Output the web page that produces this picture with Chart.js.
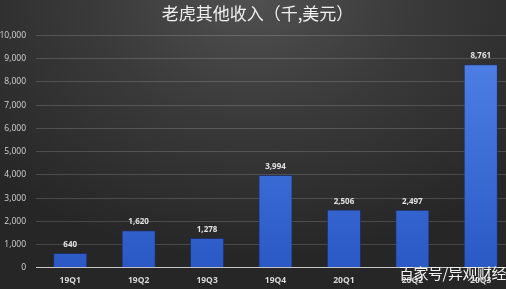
<!DOCTYPE html>
<html>
<head>
<meta charset="utf-8">
<script src="https://cdn.jsdelivr.net/npm/chart.js@4/dist/chart.umd.min.js"></script>
<style>
  html, body { margin: 0; padding: 0; }
  body {
    width: 506px; height: 289px; overflow: hidden; position: relative;
    background: radial-gradient(ellipse 70% 90% at 50% 0%, #505050 0%, #3a3a3a 45%, #262626 100%);
    font-family: "Noto Sans CJK SC", sans-serif;
  }
  /* plot runs past the right edge in the original, so the canvas is a bit larger than the page */
  #wrap { position: absolute; left: 0; top: 0; width: 515px; height: 294px; }
  #mark {
    position: absolute; left: 399px; top: 262px; color: #f2f2f2;
    font-size: 15px; letter-spacing: -0.5px; white-space: nowrap;
  }
</style>
</head>
<body>
<div id="wrap"><canvas id="chart"></canvas></div>
<div id="mark">百家号/异观财经</div>
<script>
const quarters = ["19Q1", "19Q2", "19Q3", "19Q4", "20Q1", "20Q2", "20Q3"];
const otherIncome = [640, 1620, 1278, 3994, 2506, 2497, 8761];
const yTicks = [0, 1000, 2000, 3000, 4000, 5000, 6000, 7000, 8000, 9000, 10000];

const fmt = (v) => v.toLocaleString("en-US");

// value labels above the bars
const barLabels = {
  id: "barLabels",
  afterDatasetsDraw(chart) {
    const ctx = chart.ctx;
    const meta = chart.getDatasetMeta(0);
    ctx.save();
    ctx.font = "bold 8px 'Open Sans', sans-serif";
    ctx.fillStyle = "#e2e2e2";
    ctx.textAlign = "center";
    ctx.textBaseline = "bottom";
    meta.data.forEach((bar, i) => {
      ctx.fillText(fmt(otherIncome[i]), bar.x, bar.y - 4);
    });
    ctx.restore();
  }
};

new Chart(document.getElementById("chart"), {
  type: "bar",
  data: {
    labels: quarters,
    datasets: [{
      data: otherIncome,
      backgroundColor: (c) => {
        const area = c.chart.chartArea;
        if (!area) return "#3a68d4";
        const g = c.chart.ctx.createLinearGradient(0, area.top, 0, area.bottom);
        g.addColorStop(0, "#5183e8");
        g.addColorStop(1, "#2a59c6");
        return g;
      },
      borderColor: "rgba(25, 50, 120, 0.7)",
      borderWidth: { left: 1, right: 1, top: 1, bottom: 0 },
      barPercentage: 0.5,
      categoryPercentage: 1
    }]
  },
  options: {
    responsive: true,
    maintainAspectRatio: false,
    animation: false,
    layout: { padding: 0 },
    plugins: {
      legend: { display: false },
      tooltip: { enabled: false },
      title: {
        display: true,
        text: "老虎其他收入（千,美元）",
        color: "#f0f0f0",
        font: { family: "'Noto Sans CJK SC'", size: 17, weight: "normal" },
        padding: { top: 3, bottom: 12 }
      }
    },
    scales: {
      x: {
        grid: { display: false, drawTicks: false },
        border: { display: false },
        ticks: {
          color: "#d8d8d8",
          font: { family: "'Open Sans'", size: 8.5, weight: "bold" },
          padding: 8
        }
      },
      y: {
        min: 0,
        max: 10000,
        afterBuildTicks: (axis) => { axis.ticks = yTicks.map((v) => ({ value: v })); },
        afterFit: (axis) => { axis.width = 36; },
        grid: {
          color: (c) => c.tick.value === 0 ? "#c8c8c8" : "rgba(255,255,255,0.16)",
          lineWidth: 1,
          drawTicks: false
        },
        border: { display: false },
        ticks: {
          color: "#d4d4d4",
          font: { family: "'Open Sans'", size: 8.5 },
          padding: 10,
          callback: (v) => fmt(v)
        }
      }
    }
  },
  plugins: [barLabels]
});
</script>
</body>
</html>
